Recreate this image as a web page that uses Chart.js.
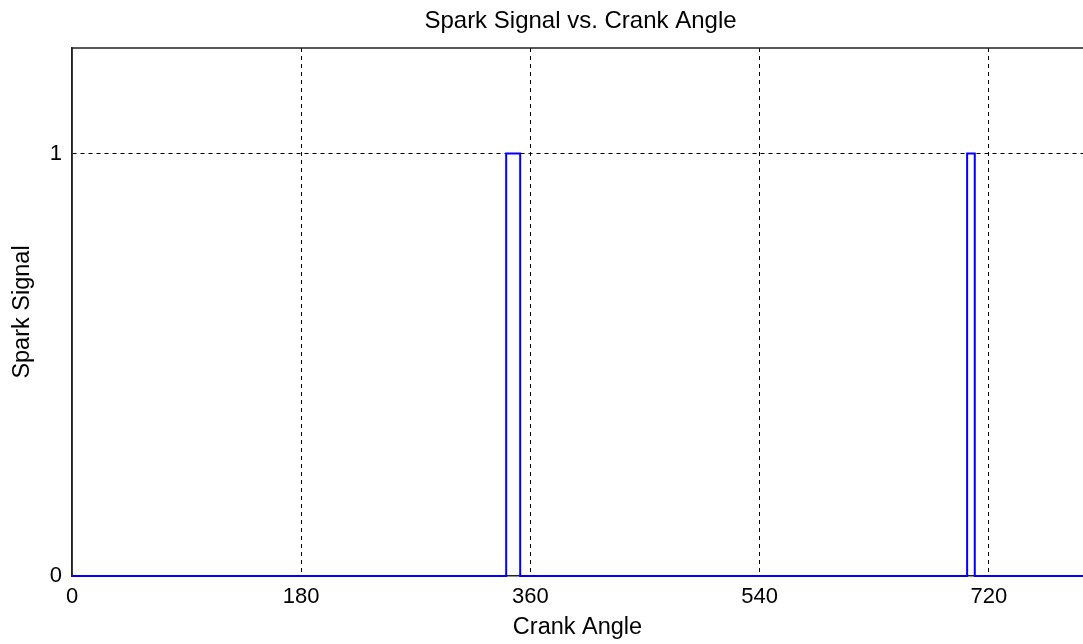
<!DOCTYPE html>
<html>
<head>
<meta charset="utf-8">
<script src="https://cdn.jsdelivr.net/npm/chart.js@4/dist/chart.umd.min.js"></script>
<style>
  html, body { margin: 0; padding: 0; background: #fff; }
  #wrap { width: 1083px; height: 644px; }
</style>
</head>
<body>
<div id="wrap"><canvas id="sparkChart"></canvas></div>
<script>
// crank angle (deg) and spark signal
const crankAngle  = [0, 341, 341, 352, 352, 703, 703, 709, 709, 794];
const sparkSignal = [0,   0,   1,   1,   0,   0,   1,   1,   0,   0];
const xTicks = [0, 180, 360, 540, 720];
const yTicks = [0, 1];
const chartTitle = 'Spark Signal vs. Crank Angle';

const FONT = 'Liberation Sans, Arial, sans-serif';

// axes box frame (top + left) and the title, centred over the full axes
// (the axes run a little past the right edge of the picture)
const frame = {
    id: 'frame',
    beforeDatasetsDraw(chart) {
        const { ctx, chartArea: a } = chart;
        ctx.save();
        ctx.strokeStyle = '#222';
        ctx.lineWidth = 1.5;
        ctx.beginPath();
        ctx.moveTo(a.left, a.bottom);
        ctx.lineTo(a.left, a.top);
        ctx.lineTo(a.right, a.top);
        ctx.stroke();
        ctx.restore();
    },
    afterDraw(chart) {
        const { ctx, chartArea: a } = chart;
        ctx.save();
        ctx.fillStyle = '#000';
        ctx.font = '24px ' + FONT;
        ctx.textAlign = 'center';
        ctx.textBaseline = 'middle';
        ctx.fillText(chartTitle, (a.left + a.right + 6) / 2, 21);
        ctx.restore();
    }
};

new Chart(document.getElementById('sparkChart'), {
    type: 'line',
    data: {
        datasets: [{
            label: 'Spark Signal',
            data: crankAngle.map((x, i) => ({ x: x, y: sparkSignal[i] })),
            borderColor: '#0000ff',
            borderWidth: 2,
            pointRadius: 0,
            tension: 0,
            fill: false,
            clip: false
        }]
    },
    options: {
        responsive: true,
        maintainAspectRatio: false,
        animation: false,
        layout: { padding: { top: 48 } },
        plugins: {
            legend: { display: false },
            tooltip: { enabled: false },
            title: { display: false }
        },
        scales: {
            x: {
                type: 'linear',
                min: 0,
                max: 794,
                afterBuildTicks: s => { s.ticks = xTicks.map(v => ({ value: v })); },
                afterFit: s => { s.height = 68; },
                ticks: {
                    color: '#000',
                    font: { family: FONT, size: 22 },
                    padding: 8,
                    maxRotation: 0
                },
                grid: {
                    color: c => c.tick && c.tick.value === 0 ? 'rgba(0,0,0,0)' : '#000',
                    lineWidth: 1,
                    drawTicks: false
                },
                border: { display: true, color: '#222', width: 1.5, dash: [4, 4] },
                title: {
                    display: true,
                    text: 'Crank Angle',
                    color: '#000',
                    font: { family: FONT, size: 23.5 },
                    padding: { top: 2, bottom: 2 }
                }
            },
            y: {
                type: 'linear',
                min: 0,
                max: 1.25,
                afterBuildTicks: s => { s.ticks = yTicks.map(v => ({ value: v })); },
                afterFit: s => { s.width = 72; },
                ticks: {
                    color: '#000',
                    font: { family: FONT, size: 22 },
                    padding: 10
                },
                grid: {
                    color: c => c.tick && c.tick.value === 0 ? 'rgba(0,0,0,0)' : '#000',
                    lineWidth: 1,
                    drawTicks: false
                },
                border: { display: true, color: '#222', width: 1.5, dash: [4, 4] },
                title: {
                    display: true,
                    text: 'Spark Signal',
                    color: '#000',
                    font: { family: FONT, size: 23.5 },
                    padding: { top: 8, bottom: 2 }
                }
            }
        }
    },
    plugins: [frame]
});
</script>
</body>
</html>
